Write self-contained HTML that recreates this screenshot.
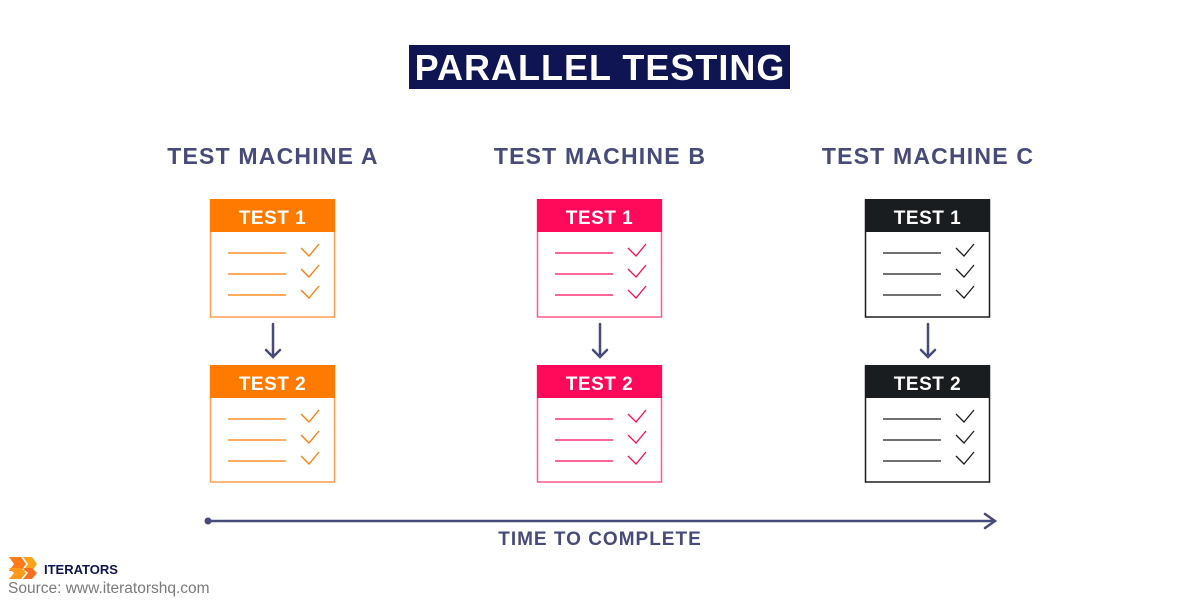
<!DOCTYPE html>
<html><head><meta charset="utf-8"><style>
html,body{margin:0;padding:0;background:#fff;}
svg{display:block;font-family:"Liberation Sans",sans-serif;}
</style></head><body>
<svg width="1200" height="600" viewBox="0 0 1200 600" xmlns="http://www.w3.org/2000/svg">
<defs>
<g id="lines">
  <line x1="18" y1="0" x2="76" y2="0" stroke-width="1.3"/>
  <line x1="18" y1="21" x2="76" y2="21" stroke-width="1.3"/>
  <line x1="18" y1="42" x2="76" y2="42" stroke-width="1.3"/>
  <polyline points="91,-5 99,3 109,-9" fill="none" stroke-width="1.3"/>
  <polyline points="91,16 99,24 109,12" fill="none" stroke-width="1.3"/>
  <polyline points="91,37 99,45 109,33" fill="none" stroke-width="1.3"/>
</g>
</defs>
<rect width="1200" height="600" fill="#fff"/>
<rect x="409" y="45" width="381" height="44" fill="#0f1452"/>
<text x="600" y="80" text-anchor="middle" font-size="36" font-weight="bold" fill="#fff" letter-spacing="1">PARALLEL TESTING</text>

<g font-size="23" font-weight="bold" fill="#474b7a" text-anchor="middle" letter-spacing="1.2">
<text x="273" y="164">TEST MACHINE A</text>
<text x="600" y="164">TEST MACHINE B</text>
<text x="928" y="164">TEST MACHINE C</text>
</g>

<!-- Column A -->
<g transform="translate(210,0)">
  <rect x="0.5" y="200" width="124" height="117" fill="#fff" stroke="#ffa050" stroke-width="1.5"/>
  <rect x="0" y="199" width="125" height="33" fill="#ff7a00"/>
  <text x="62.5" y="224" text-anchor="middle" font-size="19" font-weight="bold" fill="#fff" letter-spacing="0.5">TEST 1</text>
  <g transform="translate(0,253)" stroke="#ff7a00"><use href="#lines"/></g>
  <rect x="0.5" y="366" width="124" height="116" fill="#fff" stroke="#ffa050" stroke-width="1.5"/>
  <rect x="0" y="365" width="125" height="33" fill="#ff7a00"/>
  <text x="62.5" y="390" text-anchor="middle" font-size="19" font-weight="bold" fill="#fff" letter-spacing="0.5">TEST 2</text>
  <g transform="translate(0,419)" stroke="#ff7a00"><use href="#lines"/></g>
</g>
<!-- Column B -->
<g transform="translate(537,0)">
  <rect x="0.5" y="200" width="124" height="117" fill="#fff" stroke="#ff5a8a" stroke-width="1.5"/>
  <rect x="0" y="199" width="125" height="33" fill="#ff0a5a"/>
  <text x="62.5" y="224" text-anchor="middle" font-size="19" font-weight="bold" fill="#fff" letter-spacing="0.5">TEST 1</text>
  <g transform="translate(0,253)" stroke="#ff0a5a"><use href="#lines"/></g>
  <rect x="0.5" y="366" width="124" height="116" fill="#fff" stroke="#ff5a8a" stroke-width="1.5"/>
  <rect x="0" y="365" width="125" height="33" fill="#ff0a5a"/>
  <text x="62.5" y="390" text-anchor="middle" font-size="19" font-weight="bold" fill="#fff" letter-spacing="0.5">TEST 2</text>
  <g transform="translate(0,419)" stroke="#ff0a5a"><use href="#lines"/></g>
</g>
<!-- Column C -->
<g transform="translate(865,0)">
  <rect x="0.5" y="200" width="124" height="117" fill="#fff" stroke="#1a1d1f" stroke-width="1.5"/>
  <rect x="0" y="199" width="125" height="33" fill="#1a1d1f"/>
  <text x="62.5" y="224" text-anchor="middle" font-size="19" font-weight="bold" fill="#fff" letter-spacing="0.5">TEST 1</text>
  <g transform="translate(0,253)" stroke="#1a1d1f"><use href="#lines"/></g>
  <rect x="0.5" y="366" width="124" height="116" fill="#fff" stroke="#1a1d1f" stroke-width="1.5"/>
  <rect x="0" y="365" width="125" height="33" fill="#1a1d1f"/>
  <text x="62.5" y="390" text-anchor="middle" font-size="19" font-weight="bold" fill="#fff" letter-spacing="0.5">TEST 2</text>
  <g transform="translate(0,419)" stroke="#1a1d1f"><use href="#lines"/></g>
</g>

<!-- down arrows -->
<g stroke="#474b7a" stroke-width="2.5" fill="none" stroke-linecap="round">
  <line x1="273" y1="324" x2="273" y2="357"/><polyline points="266,350 273,357 280,350"/>
  <line x1="600" y1="324" x2="600" y2="357"/><polyline points="593,350 600,357 607,350"/>
  <line x1="928" y1="324" x2="928" y2="357"/><polyline points="921,350 928,357 935,350"/>
</g>

<!-- timeline -->
<circle cx="208" cy="521" r="3.5" fill="#474b7a"/>
<line x1="208" y1="521" x2="994" y2="521" stroke="#474b7a" stroke-width="2.5"/>
<polyline points="985,514 995,521 985,528" fill="none" stroke="#474b7a" stroke-width="2.5" stroke-linecap="round"/>
<text x="600" y="545" text-anchor="middle" font-size="19" font-weight="bold" fill="#474b7a" letter-spacing="1">TIME TO COMPLETE</text>

<!-- logo -->
<polygon points="9,557 21,557 26,564 21,571 9,571 14,564" fill="#ff7a1a"/>
<polygon points="23,557 32,557 37,564 32,571 23,571 28,564" fill="#ffa31a"/>
<polygon points="9,568 21,568 26,573 21,579 9,579 14,573" fill="#ff9a1a"/>
<polygon points="23,568 32,568 37,573 32,579 23,579 28,573" fill="#f57020"/>
<text x="44" y="574" font-size="13" font-weight="bold" fill="#0f1452">ITERATORS</text>
<text x="8" y="593" font-size="15.5" fill="#7a7a7a">Source: www.iteratorshq.com</text>
</svg>
</body></html>
